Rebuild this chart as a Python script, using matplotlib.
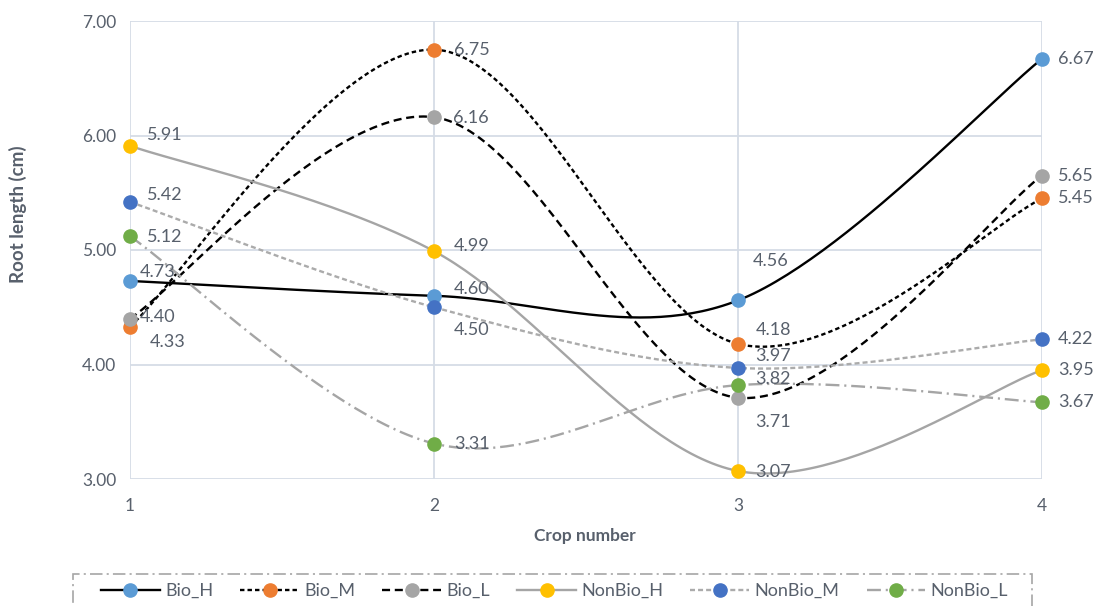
import numpy as np
import matplotlib
matplotlib.use("Agg")
import matplotlib.pyplot as plt
from matplotlib.lines import Line2D
from matplotlib.patches import Rectangle

plt.rcParams['font.family'] = ['Lato', 'DejaVu Sans']
plt.rcParams['lines.scale_dashes'] = False

# ---- data -------------------------------------------------------------
crops = [1, 2, 3, 4]
series_names = ["Bio_H", "Bio_M", "Bio_L", "NonBio_H", "NonBio_M", "NonBio_L"]
bio_h = [4.73, 4.60, 4.56, 6.67]
bio_m = [4.33, 6.75, 4.18, 5.45]
bio_l = [4.40, 6.16, 3.71, 5.65]
nonbio_h = [5.91, 4.99, 3.07, 3.95]
nonbio_m = [5.42, 4.50, 3.97, 4.22]
nonbio_l = [5.12, 3.31, 3.82, 3.67]
y_ticks = [3.0, 4.0, 5.0, 6.0, 7.0]

# ---- styles -----------------------------------------------------------
styles = {
    "Bio_H":    dict(color="#000000", dashes=None,                 mfc="#5B9BD5"),
    "Bio_M":    dict(color="#000000", dashes=(3.2, 2.2),           mfc="#ED7D31"),
    "Bio_L":    dict(color="#000000", dashes=(5.8, 3.4),           mfc="#A5A5A5"),
    "NonBio_H": dict(color="#A5A5A5", dashes=None,                 mfc="#FFC000"),
    "NonBio_M": dict(color="#ABABAB", dashes=(3.6, 2.2),           mfc="#4472C4"),
    "NonBio_L": dict(color="#A5A5A5", dashes=(10, 3.5, 1.5, 3.5),  mfc="#70AD47"),
}
# label offsets in pixels (dx, dy) for each point
label_offsets = {
    "Bio_H":    [(10, 9), (20, 7), (15, 39), (16, 0)],
    "Bio_M":    [(20, -15), (20, 0), (18, 14), (16, 0)],
    "Bio_L":    [(10, 2), (19, -1), (17, -24), (16, 0)],
    "NonBio_H": [(17, 11), (20, 5), (17, -1), (16, 0)],
    "NonBio_M": [(17, 7), (20, -23), (17, 12), (16, 0)],
    "NonBio_L": [(17, -1), (20, 0), (17, 6), (16, 0)],
}
values = {"Bio_H": bio_h, "Bio_M": bio_m, "Bio_L": bio_l,
          "NonBio_H": nonbio_h, "NonBio_M": nonbio_m, "NonBio_L": nonbio_l}

TEXT = "#58606C"
GRID = "#D5DCE6"
W, H = 1097, 606


def smooth(x, y, n=60):
    """Catmull-Rom spline through the points (spreadsheet-style smoothing)."""
    x = np.asarray(x, float)
    y = np.asarray(y, float)
    px = np.concatenate([[x[0]], x, [x[-1]]])
    py = np.concatenate([[y[0]], y, [y[-1]]])
    xs, ys = [], []
    for i in range(1, len(px) - 2):
        t = np.linspace(0, 1, n)
        h00 = 2 * t**3 - 3 * t**2 + 1
        h10 = t**3 - 2 * t**2 + t
        h01 = -2 * t**3 + 3 * t**2
        h11 = t**3 - t**2
        mx0 = (px[i + 1] - px[i - 1]) / 2
        mx1 = (px[i + 2] - px[i]) / 2
        my0 = (py[i + 1] - py[i - 1]) / 2
        my1 = (py[i + 2] - py[i]) / 2
        xs.append(h00 * px[i] + h10 * mx0 + h01 * px[i + 1] + h11 * mx1)
        ys.append(h00 * py[i] + h10 * my0 + h01 * py[i + 1] + h11 * my1)
    return np.concatenate(xs), np.concatenate(ys)


fig = plt.figure(figsize=(W / 100, H / 100), dpi=100)
ax = fig.add_axes([130 / W, 1 - 479 / H, (1042 - 130) / W, (479 - 21) / H])

ax.set_xlim(1, 4)
ax.set_ylim(3, 7)
ax.set_xticks(crops)
ax.set_yticks(y_ticks)
ax.set_yticklabels([f"{v:.2f}" for v in y_ticks])
ax.grid(True, color=GRID, lw=1.3)
ax.set_axisbelow(True)
for s in ax.spines.values():
    s.set_visible(False)
ax.tick_params(length=0, labelsize=12.5, colors=TEXT, pad=10)
ax.tick_params(axis='x', pad=14)

handles = []
for name in series_names:
    st = styles[name]
    yv = values[name]
    sx, sy = smooth(crops, yv)
    ln, = ax.plot(sx, sy, color=st["color"], lw=1.7, zorder=3, clip_on=False)
    if st["dashes"] is not None:
        ln.set_dashes(st["dashes"])
    ax.plot(crops, yv, ls="none", marker="o", ms=9.5, mfc=st["mfc"],
            mec=st["mfc"], zorder=5, clip_on=False)
    for xi, yi, (dx, dy) in zip(crops, yv, label_offsets[name]):
        ax.annotate(f"{yi:.2f}", (xi, yi), xytext=(dx, dy),
                    textcoords="offset pixels", ha="left", va="center",
                    fontsize=13, color=TEXT, zorder=6)
    h = Line2D([0], [0], color=st["color"], lw=1.7, marker="o", ms=9.5,
               mfc=st["mfc"], mec=st["mfc"])
    if st["dashes"] is not None:
        h.set_dashes(st["dashes"])
    handles.append(h)

ax.set_xlabel("Crop number", fontsize=12.5, fontweight="bold", color=TEXT)
ax.xaxis.set_label_coords(585 / 912 - 130 / 912, (479 - 528) / 458)
ax.set_ylabel("Root length (cm)", fontsize=13.5, fontweight="bold", color=TEXT)
ax.yaxis.set_label_coords(-0.113, (479 - 214) / 458)

# legend entries in one row, with a dash-dot box that runs off the bottom
leg = fig.legend(handles, series_names, loc="center left",
                 bbox_to_anchor=(101 / W, 1 - 591 / H),
                 ncol=6, fontsize=13, frameon=False,
                 handlelength=3.25, handletextpad=0.3,
                 borderpad=0, borderaxespad=0, columnspacing=1.5,
                 labelcolor=TEXT)
fig.patches.append(Rectangle((73 / W, -20 / H), (1032 - 73) / W, (20 + 606 - 574) / H,
                             transform=fig.transFigure, fill=False,
                             edgecolor="#A6A6A6", lw=1.2,
                             linestyle=(0, (9, 3, 1.5, 3))))

fig.savefig("out.png", dpi=100)
